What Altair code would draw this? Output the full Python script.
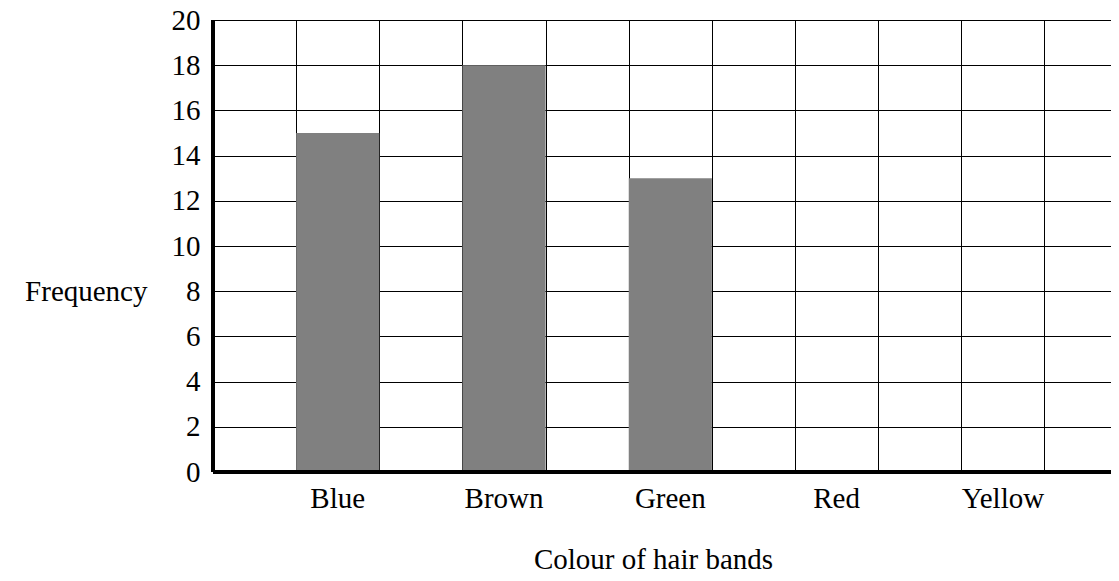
import altair as alt
import pandas as pd

categories = ["Blue", "Brown", "Green", "Red", "Yellow"]
frequencies = [15, 18, 13, 0, 0]
y_ticks = list(range(0, 21, 2))
x_grid = list(range(0, 11))

df = pd.DataFrame({
    "colour": categories,
    "freq": frequencies,
    "start": [2 * i + 1 for i in range(len(categories))],
    "end": [2 * i + 2 for i in range(len(categories))],
    "mid": [2 * i + 1.5 for i in range(len(categories))],
})

FONT = "Liberation Serif"
xscale = alt.Scale(domain=[0, 10.8], nice=False, zero=False)
yscale = alt.Scale(domain=[0, 20], nice=False)

bars = alt.Chart(df).mark_rect(color="#808080").encode(
    x=alt.X("start:Q", scale=xscale,
            axis=alt.Axis(values=x_grid, grid=True, labels=False, ticks=False, domain=False,
                          title="Colour of hair bands", titleX=440, titleY=96,
                          titleAlign="center", titleBaseline="alphabetic",
                          titleFont=FONT, titleFontSize=29, titleFontWeight="normal",
                          titleColor="black")),
    x2="end:Q",
    y=alt.Y("freq:Q", scale=yscale,
            axis=alt.Axis(values=y_ticks, grid=True, ticks=False, domain=False,
                          labelFont=FONT, labelFontSize=29, labelColor="black",
                          labelPadding=13,
                          title="Frequency", titleAngle=0, titleX=-66, titleY=271,
                          titleAlign="right", titleBaseline="middle",
                          titleFont=FONT, titleFontSize=29, titleFontWeight="normal",
                          titleColor="black")),
    y2=alt.datum(0),
)

labels = alt.Chart(df).mark_text(font=FONT, fontSize=29, color="black",
                                 baseline="alphabetic", align="center").encode(
    x=alt.X("mid:Q", scale=xscale),
    y=alt.value(488),
    text="colour:N",
)

left_rule = alt.Chart(df).mark_rule(color="black", strokeWidth=4).encode(
    x=alt.datum(0, scale=xscale)
)
bottom_rule = alt.Chart(df).mark_rule(color="black", strokeWidth=4).encode(
    y=alt.datum(0, scale=yscale)
)

chart = alt.layer(bars, labels, left_rule, bottom_rule).properties(
    width=898, height=452,
    autosize=alt.AutoSizeParams(type="none"),
    padding={"left": 205, "top": 12, "right": 0, "bottom": 101},
).configure_view(stroke=None).configure_axis(
    gridColor="black", gridWidth=1, gridOpacity=1
)

chart.save("out.html", embed_options={"renderer": "svg", "actions": False})
